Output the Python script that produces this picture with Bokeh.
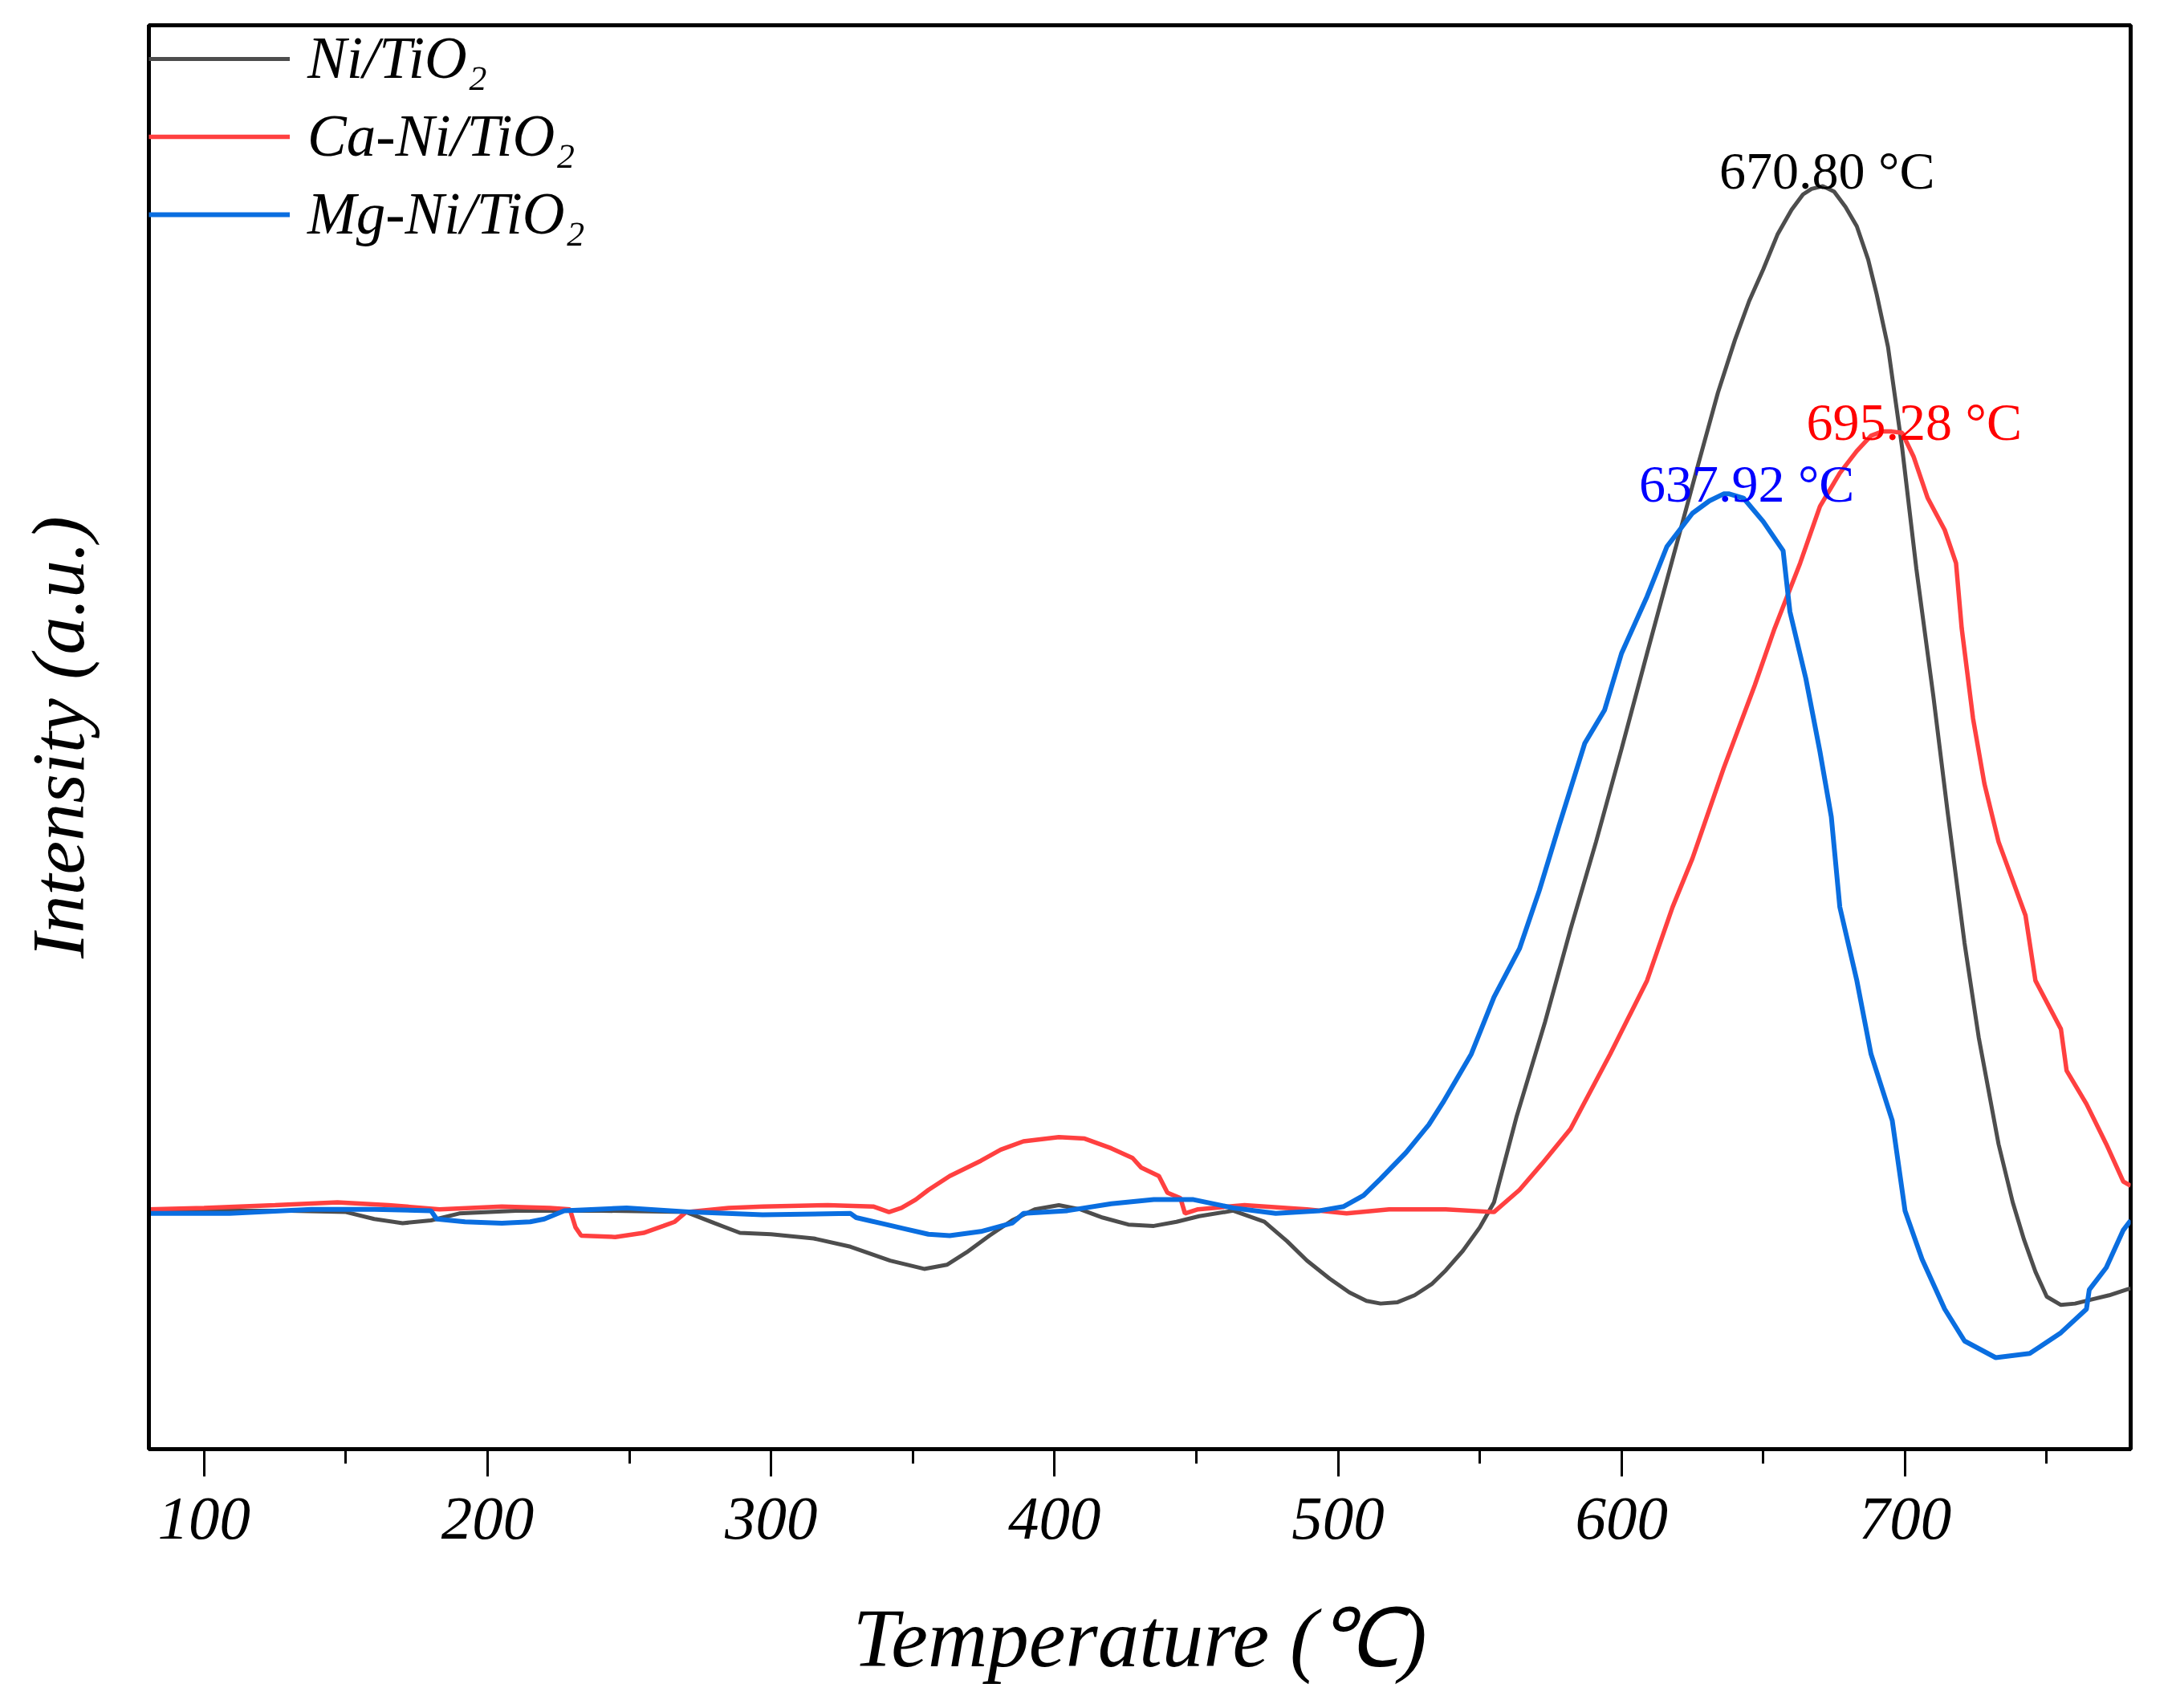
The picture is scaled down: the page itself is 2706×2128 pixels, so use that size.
from bokeh.plotting import figure
from bokeh.models import ColumnDataSource, SingleIntervalTicker, FixedTicker, Range1d
from bokeh.core.properties import value
from bokeh.embed import file_html
from bokeh.resources import INLINE

# H2-TPR style profiles (intensity in arbitrary units)
ni_temp = [80.5, 100, 130, 150, 160, 170, 180, 190, 210, 240, 270, 280, 289, 300, 315,
           328, 342, 354, 362, 369, 377, 385, 393, 401.5, 409, 417, 426, 435, 443, 451,
           463, 474, 482, 489, 497, 504, 510, 515, 521, 527, 533, 538, 544, 550, 555,
           563, 573, 582, 591, 600, 609, 618, 627, 634, 640, 645, 650, 655, 660, 664,
           667, 671, 675, 679, 683, 687, 690, 694, 699, 704, 710, 715, 721, 726, 733,
           738, 742, 746, 750, 755, 760, 766, 772, 778, 779.6]
ni_int = [17.2, 17.2, 17.2, 17.1, 16.6, 16.3, 16.5, 17.0, 17.2, 17.2, 17.1, 16.3, 15.6, 15.5, 15.2,
          14.6, 13.6, 13.0, 13.3, 14.2, 15.4, 16.5, 17.3, 17.6, 17.3, 16.7, 16.2, 16.1, 16.4, 16.8,
          17.2, 16.4, 15.0, 13.6, 12.3, 11.3, 10.7, 10.5, 10.6, 11.1, 11.9, 12.9, 14.3, 16.0, 17.8,
          24.0, 30.8, 37.5, 43.8, 50.5, 57.4, 64.2, 71.0, 76.2, 80.0, 82.8, 85.1, 87.6, 89.4, 90.5,
          90.9, 91.1, 90.7, 89.6, 88.2, 85.8, 83.3, 79.5, 72.2, 63.5, 54.3, 46.0, 36.5, 29.7, 22.0,
          17.8, 15.1, 12.8, 11.0, 10.4, 10.5, 10.8, 11.1, 11.5, 11.6]

ca_temp = [80.5, 100, 125, 147, 165, 183, 205, 222, 229, 231, 233, 245, 255, 262, 266,
           270, 285, 297, 320, 336, 341.6, 346, 351, 355.5, 363, 374, 381, 389, 401.5, 410.6,
           420, 427.5, 430.6, 436.8, 439.8, 444.4, 446, 450.6, 467, 489, 503, 518, 538, 555,
           564, 572, 582, 596, 609, 618, 625, 636, 647, 654, 663, 670, 677, 683, 688, 692,
           695.3, 699, 703, 708, 714, 718, 720, 724, 728, 733, 742.5, 746, 755, 757, 764, 771,
           777, 779.6]
ca_int = [17.3, 17.4, 17.6, 17.8, 17.6, 17.3, 17.5, 17.4, 17.3, 16.0, 15.4, 15.3, 15.6, 16.1, 16.4,
          17.1, 17.4, 17.5, 17.6, 17.5, 17.1, 17.4, 18.0, 18.7, 19.7, 20.8, 21.6, 22.2, 22.5, 22.4,
          21.7, 21.0, 20.3, 19.7, 18.5, 18.1, 17.0, 17.3, 17.6, 17.3, 17.0, 17.3, 17.3, 17.1,
          18.7, 20.6, 23.1, 28.5, 33.8, 39.1, 42.6, 49.1, 55.1, 59.2, 63.9, 68.0, 70.4, 72.0, 73.1, 73.4,
          73.4, 73.3, 71.6, 68.6, 66.3, 63.9, 59.2, 52.7, 48.0, 43.8, 38.5, 33.8, 30.3, 27.3, 24.9, 22.0,
          19.3, 19.0]

mg_temp = [80.5, 109, 138, 160, 180, 182, 192, 205, 215, 220, 227, 249, 272, 297, 328,
           330, 338.5, 347, 355.5, 363, 374, 385, 389, 404.5, 420, 435, 449, 463, 478, 493.5,
           502, 509, 515, 524, 532, 537, 547, 555, 564, 571, 578, 587, 594, 600, 609,
           616, 625, 631, 636, 638, 643, 650, 657, 659.4, 665, 670, 674, 677, 683, 688, 695.5,
           700, 706, 714, 721, 732, 744, 755, 764, 765, 771, 777, 779.6]
mg_int = [17.0, 17.0, 17.3, 17.3, 17.2, 16.6, 16.4, 16.3, 16.4, 16.6, 17.2, 17.4, 17.1, 16.9, 17.0,
          16.7, 16.3, 15.9, 15.5, 15.4, 15.7, 16.3, 17.0, 17.2, 17.7, 18.0, 18.0, 17.4, 17.0, 17.2,
          17.5, 18.3, 19.5, 21.4, 23.4, 25.0, 28.5, 32.6, 36.1, 40.3, 45.0, 50.9, 53.3, 57.4, 61.5,
          65.1, 67.5, 68.4, 68.9, 68.9, 68.6, 66.9, 64.8, 60.4, 55.6, 50.3, 45.6, 39.1, 33.8, 28.5, 23.7,
          17.2, 13.7, 10.1, 7.8, 6.6, 6.9, 8.4, 10.1, 11.5, 13.1, 15.8, 16.5]

series_names = ["Ni/TiO\u2082", "Ca-Ni/TiO\u2082", "Mg-Ni/TiO\u2082"]
peak_temps = [670.80, 695.28, 637.92]
peak_ints = [91.1, 73.4, 68.9]
peak_labels = ["670.80 \u00b0C", "695.28 \u00b0C", "637.92 \u00b0C"]

line_colors = ["#4d4d4d", "#ff4040", "#0a6ee0"]
line_widths = [5, 5.5, 6]
label_colors = ["#000000", "#ff0000", "#0000ff"]
label_dx = [6, 28, 22]
label_dy = [-19, -12, -13]

SERIF = "Liberation Serif"

p = figure(width=2688, height=2110, output_backend="svg", toolbar_location=None,
           x_range=Range1d(80.5, 779.6), y_range=Range1d(0, 102.7),
           min_border_left=185, min_border_right=34, min_border_top=31, min_border_bottom=305)
p.xgrid.visible = False
p.ygrid.visible = False
p.outline_line_color = "black"
p.outline_line_width = 5
p.background_fill_color = "white"

for t, v, name, c, w in zip([ni_temp, ca_temp, mg_temp], [ni_int, ca_int, mg_int],
                            series_names, line_colors, line_widths):
    src = ColumnDataSource({"temp": t, "intensity": v})
    p.line("temp", "intensity", source=src, line_color=c, line_width=w, legend_label=name)

lbl = ColumnDataSource({"x": peak_temps, "y": peak_ints, "text": peak_labels,
                        "color": label_colors, "dx": label_dx, "dy": label_dy})
p.text("x", "y", text="text", source=lbl, text_color="color", x_offset="dx", y_offset="dy",
       text_font=value(SERIF), text_font_size="66px", text_align="center",
       text_baseline="alphabetic")

xa = p.xaxis[0]
xa.ticker = SingleIntervalTicker(interval=100, num_minor_ticks=2)
xa.axis_line_width = 5
xa.axis_line_color = "black"
xa.major_tick_in = 0
xa.major_tick_out = 34
xa.minor_tick_in = 0
xa.minor_tick_out = 18
xa.major_tick_line_width = 3
xa.minor_tick_line_width = 3
xa.major_tick_line_color = "black"
xa.minor_tick_line_color = "black"
xa.major_label_text_font = SERIF
xa.major_label_text_font_style = "italic"
xa.major_label_text_font_size = "77px"
xa.major_label_text_color = "black"
xa.major_label_standoff = 27
xa.axis_label = "Temperature (\u2103)"
xa.axis_label_text_font = SERIF
xa.axis_label_text_font_style = "italic"
xa.axis_label_text_font_size = "103px"
xa.axis_label_text_color = "black"
xa.axis_label_standoff = 64

ya = p.yaxis[0]
ya.ticker = FixedTicker(ticks=[])
ya.axis_line_width = 5
ya.axis_line_color = "black"
ya.major_tick_line_color = None
ya.minor_tick_line_color = None
ya.major_label_text_font_size = "0px"
ya.axis_label = "Intensity (a.u.)"
ya.axis_label_text_font = SERIF
ya.axis_label_text_font_style = "italic"
ya.axis_label_text_font_size = "94px"
ya.axis_label_text_color = "black"
ya.axis_label_standoff = 62

leg = p.legend[0]
leg.location = "top_left"
leg.margin = 0
leg.padding = 7
leg.spacing = 13
leg.border_line_color = None
leg.background_fill_alpha = 0
leg.glyph_width = 176
leg.glyph_height = 80
leg.label_height = 80
leg.label_standoff = 22
leg.label_text_font = SERIF
leg.label_text_font_style = "italic"
leg.label_text_font_size = "73px"
leg.label_text_color = "black"

open("out.html", "w").write(file_html(p, INLINE))
